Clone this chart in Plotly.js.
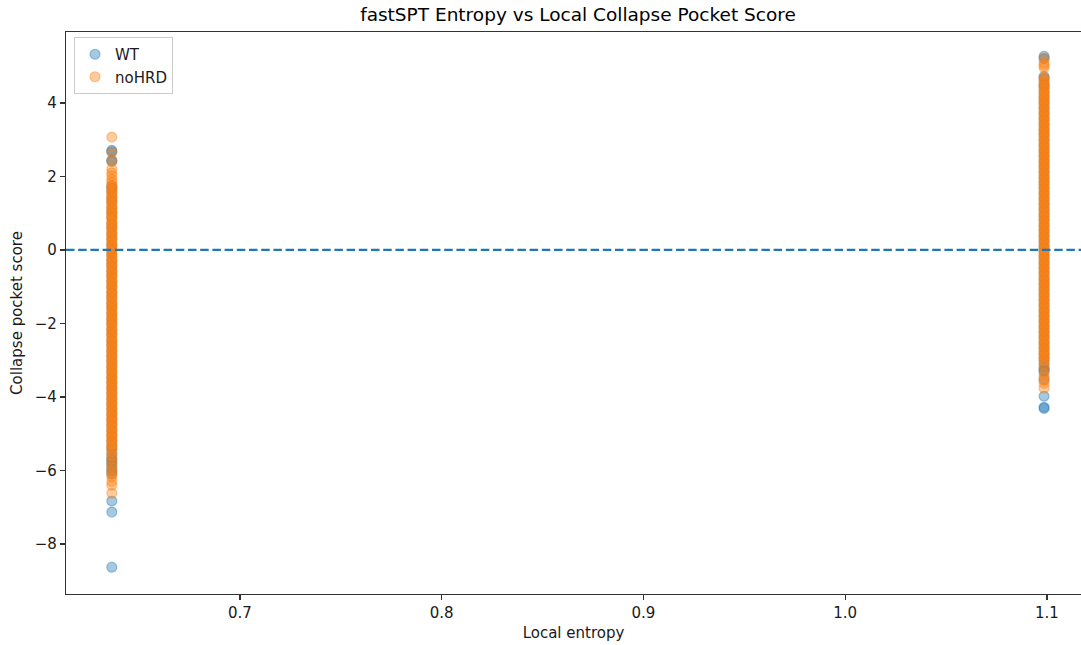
<!DOCTYPE html>
<html>
<head>
<meta charset="utf-8">
<script src="https://cdn.plot.ly/plotly-3.0.1.min.js"></script>
<style>
  html, body { margin: 0; padding: 0; background: #ffffff; }
  #chart { width: 1081px; height: 645px; }
</style>
</head>
<body>
<div id="chart"></div>
<script>
// Local entropy takes two values in this dataset
const entropyLow = 0.6365;
const entropyHigh = 1.0986;

// WT collapse pocket scores, low-entropy column
const wtLowScores = [
  2.71, 2.67, 2.44, 2.41, 1.74, 1.68,
  1.58, 1.43, 1.31, 1.15, 1.02, 0.88, 0.71, 0.59, 0.44, 0.30, 0.14, 0.01,
  -0.13, -0.29, -0.42, -0.57, -0.71, -0.86, -1.00, -1.16, -1.29, -1.45,
  -1.58, -1.73, -1.88, -2.01, -2.17, -2.30, -2.46, -2.59, -2.74, -2.88,
  -3.03, -3.17, -3.31, -3.46, -3.60, -3.75, -3.89, -4.04, -4.18, -4.32,
  -4.47, -4.61, -4.76, -4.90, -5.05, -5.19, -5.33, -5.42,
  -5.55, -5.66, -5.72, -5.78, -5.86, -5.95, -6.02, -6.10, -6.83, -7.13, -8.63
];

// WT collapse pocket scores, high-entropy column
const wtHighScores = [
  5.27, 5.20, 4.72, 4.66, 4.50,
  4.44, 4.30, 4.15, 4.01, 3.86, 3.72, 3.57, 3.43, 3.28, 3.14, 2.99, 2.85,
  2.70, 2.56, 2.41, 2.27, 2.12, 1.98, 1.83, 1.69, 1.54, 1.40, 1.25, 1.11,
  0.96, 0.82, 0.67, 0.53, 0.38, 0.24, 0.09, -0.05, -0.20, -0.34, -0.49,
  -0.63, -0.78, -0.92, -1.07, -1.21, -1.36, -1.50, -1.65, -1.79, -1.94,
  -2.08, -2.23, -2.37, -2.52, -2.66, -2.81, -2.95, -3.08,
  -3.20, -3.27, -3.30, -3.52, -3.98, -4.28, -4.31
];

// noHRD collapse pocket scores, low-entropy column
const noHrdLowScores = [
  3.07, 2.66, 2.42, 2.20, 2.10, 2.02, 1.92, 1.84, 1.76, 1.70, 1.65,
  1.60, 1.55, 1.49, 1.44, 1.37, 1.32, 1.26, 1.21, 1.14, 1.08, 1.03, 0.97,
  0.91, 0.86, 0.79, 0.74, 0.68, 0.62, 0.57, 0.50, 0.45, 0.39, 0.33, 0.28,
  0.21, 0.16, 0.10, 0.04, -0.02, -0.07, -0.13, -0.19, -0.25, -0.30, -0.36,
  -0.42, -0.47, -0.54, -0.59, -0.65, -0.71, -0.76, -0.83, -0.88, -0.94,
  -1.00, -1.05, -1.12, -1.17, -1.23, -1.29, -1.34, -1.41, -1.46, -1.52,
  -1.58, -1.63, -1.70, -1.75, -1.81, -1.87, -1.92, -1.99, -2.04, -2.10,
  -2.16, -2.21, -2.28, -2.33, -2.39, -2.45, -2.50, -2.57, -2.62, -2.68,
  -2.74, -2.79, -2.86, -2.91, -2.97, -3.03, -3.08, -3.15, -3.20, -3.26,
  -3.32, -3.37, -3.44, -3.49, -3.55, -3.61, -3.66, -3.73, -3.78, -3.84,
  -3.90, -3.95, -4.02, -4.07, -4.13, -4.19, -4.24, -4.31, -4.36, -4.42,
  -4.48, -4.53, -4.60, -4.65, -4.71, -4.77, -4.82, -4.89, -4.94, -5.00,
  -5.06, -5.11, -5.18, -5.23, -5.29,
  -5.36, -5.43, -5.52, -5.60, -5.70, -5.80, -5.90, -6.00, -6.08, -6.18,
  -6.30, -6.40, -6.62
];

// noHRD collapse pocket scores, high-entropy column
const noHrdHighScores = [
  5.22, 5.08, 5.02, 4.96, 4.70, 4.64, 4.58, 4.53,
  4.46, 4.40, 4.35, 4.28, 4.23, 4.17, 4.11, 4.06, 3.99, 3.94, 3.88, 3.82,
  3.77, 3.70, 3.65, 3.59, 3.53, 3.48, 3.41, 3.36, 3.30, 3.24, 3.19, 3.12,
  3.07, 3.01, 2.95, 2.90, 2.83, 2.78, 2.72, 2.66, 2.61, 2.54, 2.49, 2.43,
  2.37, 2.32, 2.25, 2.20, 2.14, 2.08, 2.03, 1.96, 1.91, 1.85, 1.79, 1.74,
  1.67, 1.62, 1.56, 1.50, 1.45, 1.38, 1.33, 1.27, 1.21, 1.16, 1.09, 1.04,
  0.98, 0.92, 0.87, 0.80, 0.75, 0.69, 0.63, 0.58, 0.51, 0.46, 0.40, 0.34,
  0.29, 0.22, 0.17, 0.11, 0.05, 0.00, -0.07, -0.12, -0.18, -0.24, -0.29,
  -0.36, -0.41, -0.47, -0.53, -0.58, -0.65, -0.70, -0.76, -0.82, -0.87,
  -0.94, -0.99, -1.05, -1.11, -1.16, -1.23, -1.28, -1.34, -1.40, -1.45,
  -1.52, -1.57, -1.63, -1.69, -1.74, -1.81, -1.86, -1.92, -1.98, -2.03,
  -2.10, -2.15, -2.21, -2.27, -2.32, -2.39, -2.44, -2.50, -2.56, -2.61,
  -2.68, -2.73, -2.79, -2.85, -2.90, -2.97, -3.02,
  -3.12, -3.22, -3.36, -3.45, -3.55, -3.63, -3.76
];

const xTicks = [0.7, 0.8, 0.9, 1.0, 1.1];
const yTicks = [-8, -6, -4, -2, 0, 2, 4];

const FONT = 'DejaVu Sans, Liberation Sans, sans-serif';
const LABEL_SIZE = 15;

function column(xValue, n) {
  return new Array(n).fill(xValue);
}

function seriesTrace(name, lowScores, highScores, rgb) {
  return {
    type: 'scatter',
    mode: 'markers',
    name: name,
    x: column(entropyLow, lowScores.length).concat(column(entropyHigh, highScores.length)),
    y: lowScores.concat(highScores),
    marker: {
      size: 10,
      color: 'rgba(' + rgb + ',0.4)',
      line: { color: 'rgba(' + rgb + ',0.4)', width: 1.2 }
    },
    hoverinfo: 'x+y+name'
  };
}

const traces = [
  seriesTrace('WT', wtLowScores, wtHighScores, '31,119,180'),
  seriesTrace('noHRD', noHrdLowScores, noHrdHighScores, '255,127,14')
];

const layout = {
  width: 1081,
  height: 645,
  margin: { l: 66, r: 0, t: 32, b: 51, pad: 0 },
  paper_bgcolor: '#ffffff',
  plot_bgcolor: '#ffffff',
  font: { family: FONT, size: LABEL_SIZE, color: '#000000' },
  showlegend: true,
  title: {
    text: 'fastSPT Entropy vs Local Collapse Pocket Score',
    font: { family: FONT, size: 18.5, color: '#000000' },
    xref: 'container', x: 578 / 1081, xanchor: 'center',
    yref: 'container', y: 1 - 15 / 645, yanchor: 'middle'
  },
  xaxis: {
    range: [0.6138, 0.6138 + 1015 / 2017.5],
    tickvals: xTicks,
    tickformat: '.1f',
    ticks: 'outside', ticklen: 5, tickwidth: 1.2, tickcolor: '#333333',
    showline: true, linecolor: '#333333', linewidth: 1.2, mirror: true,
    showgrid: false, zeroline: false,
    tickfont: { family: FONT, size: LABEL_SIZE, color: '#1a1a1a' },
    title: { text: 'Local entropy', standoff: 6, font: { family: FONT, size: LABEL_SIZE, color: '#1a1a1a' } }
  },
  yaxis: {
    range: [-9.36, 5.93],
    tickvals: yTicks,
    ticks: 'outside', ticklen: 5, tickwidth: 1.2, tickcolor: '#333333',
    showline: true, linecolor: '#333333', linewidth: 1.2,
    showgrid: false, zeroline: false,
    tickfont: { family: FONT, size: LABEL_SIZE, color: '#1a1a1a' },
    title: { text: 'Collapse pocket score', standoff: 8, font: { family: FONT, size: LABEL_SIZE, color: '#1a1a1a' } }
  },
  legend: {
    x: 8 / 1015, y: 1 - 5 / 562,
    xanchor: 'left', yanchor: 'top',
    bgcolor: 'rgba(255,255,255,0.8)',
    bordercolor: '#cccccc', borderwidth: 1,
    font: { family: FONT, size: LABEL_SIZE, color: '#1a1a1a' }
  },
  shapes: [{
    type: 'line', xref: 'paper', x0: 0, x1: 1, yref: 'y', y0: 0, y1: 0,
    line: { color: '#1f77b4', width: 2.2, dash: '8.5px,3.7px' },
    layer: 'above'
  }]
};

Plotly.newPlot('chart', traces, layout, { displayModeBar: false, staticPlot: true });
</script>
</body>
</html>
